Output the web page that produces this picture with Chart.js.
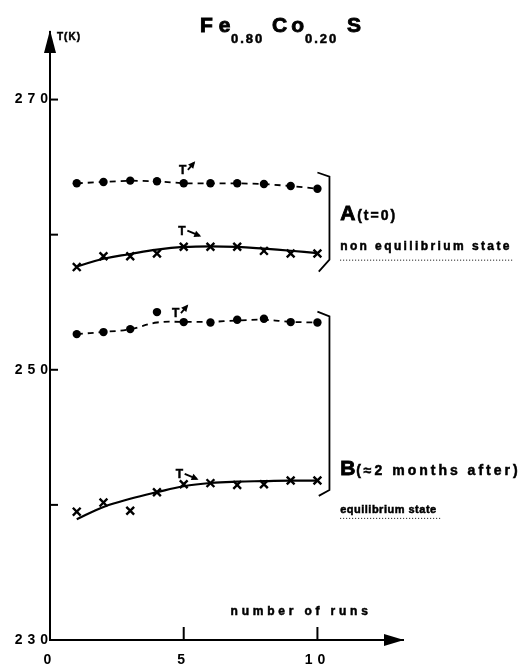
<!DOCTYPE html>
<html>
<head>
<meta charset="utf-8">
<script src="https://cdn.jsdelivr.net/npm/chart.js@4/dist/chart.umd.min.js"></script>
<style>
  html, body { margin: 0; padding: 0; background: #fff; }
  #wrap { width: 519px; height: 666px; position: relative; }
</style>
</head>
<body>
<div id="wrap"><canvas id="c" width="519" height="666"></canvas></div>
<script>
// Run number (x) for every measurement
const runs = [1, 2, 3, 4, 5, 6, 7, 8, 9, 10];

// A (t = 0), non equilibrium state
const aHeating = [263.8, 263.9, 264.0, 263.95, 263.8, 263.8, 263.8, 263.75, 263.6, 263.4];
const aCooling = [257.6, 258.4, 258.4, 258.6, 259.1, 259.1, 259.1, 258.8, 258.6, 258.6];
const aCoolingCurve = [257.65, 258.22, 258.57, 258.89, 259.09, 259.14, 259.09, 258.96, 258.81, 258.64];

// B (about 2 months after), equilibrium state
const bHeating = [252.64, 252.79, 253.01, 254.27, 253.53, 253.5, 253.7, 253.78, 253.53, 253.5];
const bHeatingCurve = [252.64, 252.8, 253.0, 253.5, 253.55, 253.55, 253.65, 253.7, 253.55, 253.5];
const bCooling = [239.5, 240.17, 239.56, 240.94, 241.53, 241.61, 241.48, 241.53, 241.8, 241.8];
const bCoolingCurve = [238.94, 239.85, 240.45, 240.94, 241.38, 241.62, 241.72, 241.76, 241.8, 241.8];

// Axis ticks
const xTicks = [0, 5, 10];
const xTickLabels = ['0', '5', '10'];
const yTicks = [230, 240, 250, 260, 270];
const yTickLabels = ['230', '', '250', '', '270'];

const pts = vals => runs.map((r, i) => ({ x: r, y: vals[i] }));
const INK = '#000';

const dots = vals => ({
  data: pts(vals), showLine: false, pointStyle: 'circle', pointRadius: 4.2,
  pointBackgroundColor: INK, pointBorderColor: INK, pointBorderWidth: 0
});
const crosses = vals => ({
  data: pts(vals), showLine: false, pointStyle: 'crossRot', pointRadius: 5.5,
  pointBorderColor: INK, pointBorderWidth: 2.4
});
const curve = (vals, dashed) => ({
  data: pts(vals), showLine: true, pointRadius: 0, borderColor: INK,
  borderWidth: dashed ? 1.8 : 2.2, borderDash: dashed ? [6, 5] : [],
  tension: 0.4
});

const heatA = curve(aHeating, true);
Object.assign(heatA, { pointStyle: 'circle', pointRadius: 4.2, pointBackgroundColor: INK, pointBorderWidth: 0, tension: 0 });

const datasets = [
  heatA,
  curve(aCoolingCurve, false),
  crosses(aCooling),
  curve(bHeatingCurve, true),
  dots(bHeating),
  curve(bCoolingCurve, false),
  crosses(bCooling)
];

const FONT = '"Liberation Sans", "DejaVu Sans", Arial, sans-serif';

// Annotations: axis arrows, inner tick marks, title, labels and brackets
const decorations = {
  id: 'decorations',
  beforeDraw(chart) {
    chart.ctx.letterSpacing = '5px';
  },
  beforeDatasetsDraw(chart) {
    chart.ctx.letterSpacing = '0px';
  },
  afterDraw(chart) {
    const ctx = chart.ctx;
    const xs = chart.scales.x, ys = chart.scales.y;
    const X = v => xs.getPixelForValue(v), Y = v => ys.getPixelForValue(v);
    const { left, right, top, bottom } = chart.chartArea;
    ctx.save();
    ctx.fillStyle = INK; ctx.strokeStyle = INK; ctx.setLineDash([]);

    // arrowheads
    ctx.beginPath();
    ctx.moveTo(left, top - 2); ctx.lineTo(left - 6, top + 21); ctx.lineTo(left + 6, top + 21); ctx.closePath(); ctx.fill();
    ctx.beginPath();
    ctx.moveTo(right + 1, bottom); ctx.lineTo(right - 19, bottom - 6); ctx.lineTo(right - 19, bottom + 6); ctx.closePath(); ctx.fill();

    // tick marks pointing into the plot
    ctx.lineWidth = 2;
    [240, 250, 260, 270].forEach(v => { ctx.beginPath(); ctx.moveTo(left, Y(v)); ctx.lineTo(left + 8, Y(v)); ctx.stroke(); });
    [5, 10].forEach(v => { ctx.beginPath(); ctx.moveTo(X(v), bottom); ctx.lineTo(X(v), bottom - 13); ctx.stroke(); });

    const txt = (s, x, y, size, spacing, align) => {
      ctx.font = 'bold ' + size + 'px ' + FONT;
      ctx.letterSpacing = (spacing || 0) + 'px';
      ctx.textAlign = align || 'left';
      ctx.textBaseline = 'alphabetic';
      ctx.lineWidth = size > 16 ? 0.9 : 0.5;
      ctx.fillText(s, x, y);
      ctx.strokeText(s, x, y);
    };

    // title Fe0.80Co0.20S
    txt('Fe', 200, 32, 21, 6);
    txt('0.80', 231, 43, 13, 2);
    txt('Co', 272, 32, 21, 4);
    txt('0.20', 305, 43, 13, 2);
    txt('S', 347, 32, 21, 0);

    // y-axis unit
    txt('T(K)', left + 7, top + 8, 10, 1);

    // x-axis title
    txt('number of runs', X(6.75), bottom - 25, 12, 3.8);

    // heating / cooling markers: T with an arrow
    const tMark = (x, y, up) => {
      txt('T', X(x), Y(y), 12, 0);
      const x0 = X(x) + 9, y0 = Y(y) - 4;
      ctx.lineWidth = 1.8; ctx.letterSpacing = '0px';
      let x1, y1;
      if (up) { x1 = x0 + 6; y1 = y0 - 7; } else { x1 = x0 + 12; y1 = y0 + 5; }
      ctx.beginPath(); ctx.moveTo(x0, y0); ctx.lineTo(x1, y1); ctx.stroke();
      const a = Math.atan2(y1 - y0, x1 - x0);
      ctx.beginPath();
      ctx.moveTo(x1 + Math.cos(a) * 2, y1 + Math.sin(a) * 2);
      ctx.lineTo(x1 - Math.cos(a - 0.6) * 6, y1 - Math.sin(a - 0.6) * 6);
      ctx.lineTo(x1 - Math.cos(a + 0.6) * 6, y1 - Math.sin(a + 0.6) * 6);
      ctx.closePath(); ctx.fill();
    };
    tMark(4.82, 264.5, true);
    tMark(4.8, 260.0, false);
    tMark(4.56, 253.9, true);
    tMark(4.7, 242.0, false);

    // brackets grouping each state
    const bracket = (t0, t1, t2, t3) => {
      ctx.lineWidth = 1.8;
      ctx.beginPath();
      ctx.moveTo(X(10.0), Y(t0)); ctx.lineTo(X(10.45), Y(t1));
      ctx.lineTo(X(10.45), Y(t2)); ctx.lineTo(X(10.05), Y(t3));
      ctx.stroke();
    };
    bracket(264.6, 264.3, 258.15, 257.26);
    bracket(254.3, 253.95, 241.1, 240.67);

    // state labels
    const lx = X(10.85);
    txt('A', lx, Y(261.1), 21, 0);
    txt('(t=0)', lx + 17, Y(261.1), 14, 2);
    txt('non equilibrium state', lx, Y(258.9), 12, 2.4);
    txt('B', lx, Y(242.2), 21, 0);
    txt('(\u22482 months after)', lx + 16, Y(242.2), 14, 3.0);
    txt('equilibrium state', lx, Y(239.4), 11, 0.5);

    // dotted underlines
    ctx.lineWidth = 1; ctx.setLineDash([1, 2]);
    ctx.beginPath(); ctx.moveTo(lx, Y(258.15) + 0.5); ctx.lineTo(lx + 172, Y(258.15) + 0.5); ctx.stroke();
    ctx.beginPath(); ctx.moveTo(lx, Y(239.04) + 0.5); ctx.lineTo(lx + 100, Y(239.04) + 0.5); ctx.stroke();
    ctx.restore();
  }
};

new Chart(document.getElementById('c'), {
  type: 'scatter',
  data: { datasets },
  options: {
    responsive: false,
    animation: false,
    layout: { padding: { top: 32, right: 116, left: 0, bottom: 0 } },
    plugins: { legend: { display: false }, tooltip: { enabled: false }, title: { display: false } },
    scales: {
      x: {
        type: 'linear', min: 0, max: 13.2,
        afterBuildTicks: s => { s.ticks = xTicks.map(v => ({ value: v })); },
        afterFit: s => { s.height = 26; },
        grid: { display: false, drawTicks: false },
        border: { display: true, color: INK, width: 2 },
        ticks: {
          autoSkip: false, maxRotation: 0, padding: 12, color: INK,
          font: { family: FONT, size: 14, weight: 'bold' },
          callback: v => xTickLabels[xTicks.indexOf(v)] ?? ''
        }
      },
      y: {
        type: 'linear', min: 230, max: 275,
        afterBuildTicks: s => { s.ticks = yTicks.map(v => ({ value: v })); },
        afterFit: s => { s.width = 50; },
        grid: { display: false, drawTicks: false },
        border: { display: true, color: INK, width: 2 },
        ticks: {
          autoSkip: false, padding: -3, color: INK,
          font: { family: FONT, size: 14, weight: 'bold' },
          callback: v => yTickLabels[yTicks.indexOf(v)] ?? ''
        }
      }
    }
  },
  plugins: [decorations]
});
</script>
</body>
</html>
